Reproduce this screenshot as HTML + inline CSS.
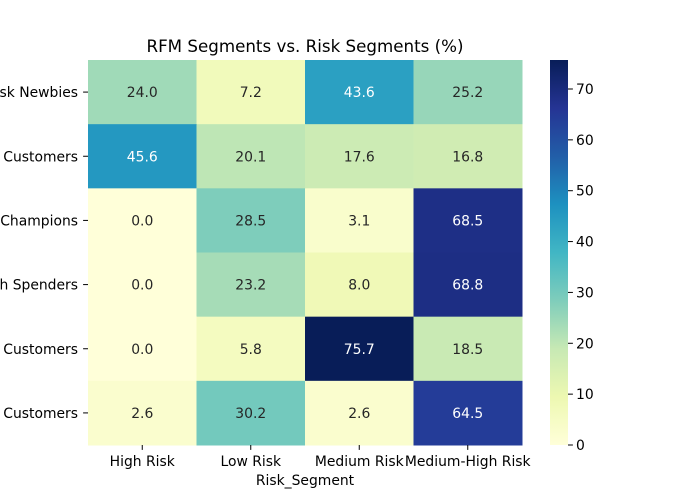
<!DOCTYPE html>
<html><head><meta charset="utf-8"><style>
body{margin:0;background:#fff;}
svg{font-family:"DejaVu Sans","Liberation Sans",sans-serif;display:block;}
</style></head><body>
<svg id="chart" width="700" height="500" viewBox="0 0 700 500">
<text x="305" y="52" text-anchor="middle" font-size="16.7" fill="#000">RFM Segments vs. Risk Segments (%)</text>
<g id="cells"></g>
<g id="axes"></g>
<g id="cbar"></g>
<text x="305" y="485" text-anchor="middle" font-size="13.9" fill="#000">Risk_Segment</text>
</svg>
<script>
const rows = ["At Risk Newbies","Loyal Customers","Champions","High Spenders","New Customers","Lost Customers"];
const cols = ["High Risk","Low Risk","Medium Risk","Medium-High Risk"];
const values = [
 [24.0,7.2,43.6,25.2],
 [45.6,20.1,17.6,16.8],
 [0.0,28.5,3.1,68.5],
 [0.0,23.2,8.0,68.8],
 [0.0,5.8,75.7,18.5],
 [2.6,30.2,2.6,64.5]
];
const cbarTicks = [0,10,20,30,40,50,60,70];

const NS="http://www.w3.org/2000/svg";
const X0=88,X1=522,Y0=60,Y1=445;
const FS=13.9;
const cw=(X1-X0)/cols.length, rh=(Y1-Y0)/rows.length;
const vmin=0, vmax=Math.max(...values.flat());
const stops=["#ffffd9","#edf8b1","#c7e9b4","#7fcdbb","#41b6c4","#1d91c0","#225ea8","#253494","#081d58"];
function hex(h){return [1,3,5].map(i=>parseInt(h.substr(i,2),16));}
function color(v){
  let t=Math.max(0,Math.min(1,(v-vmin)/(vmax-vmin)))*(stops.length-1);
  let i=Math.min(Math.floor(t),stops.length-2), f=t-i;
  let a=hex(stops[i]), b=hex(stops[i+1]);
  return "rgb("+a.map((c,k)=>Math.round(c+(b[k]-c)*f)).join(",")+")";
}
function mk(tag,attrs,parent){const e=document.createElementNS(NS,tag);for(const k in attrs)e.setAttribute(k,attrs[k]);parent.appendChild(e);return e;}
const cells=document.getElementById('cells'), axes=document.getElementById('axes'), cbar=document.getElementById('cbar');
values.forEach((row,r)=>row.forEach((v,c)=>{
  const rect=mk('rect',{x:X0+c*cw,y:Y0+r*rh,width:cw+0.5,height:rh+0.5,fill:color(v)},cells);
  
  
  const t=mk('text',{x:X0+(c+0.5)*cw,y:Y0+(r+0.5)*rh+5,'text-anchor':'middle','font-size':FS,fill:(v-vmin)/(vmax-vmin)>0.5?'#fff':'#262626'},cells);
  t.textContent=v.toFixed(1);
  
  
}));
rows.forEach((n,r)=>{
  const y=Y0+(r+0.5)*rh;
  mk('line',{x1:X0-4.9,x2:X0,y1:y,y2:y,stroke:'#000'},axes);
  const t=mk('text',{x:X0-10,y:y+5,'text-anchor':'end','font-size':FS},axes);
  t.textContent=n;
  
  
});
cols.forEach((n,c)=>{
  const x=X0+(c+0.5)*cw;
  mk('line',{x1:x,x2:x,y1:Y1,y2:Y1+4.9,stroke:'#000'},axes);
  const t=mk('text',{x:x,y:Y1+21,'text-anchor':'middle','font-size':FS},axes);
  t.textContent=n;
  
  
});
const CX=550,CW=18, defs=mk('defs',{},cbar);
const g=mk('linearGradient',{id:'cg',x1:0,y1:1,x2:0,y2:0},defs);
stops.forEach((s,i)=>mk('stop',{offset:i/(stops.length-1),'stop-color':s},g));
const cr=mk('rect',{x:CX,y:Y0,width:CW,height:Y1-Y0,fill:'url(#cg)'},cbar);


cbarTicks.forEach(v=>{
  const y=Y1-(v-vmin)/(vmax-vmin)*(Y1-Y0);
  mk('line',{x1:CX+CW,x2:CX+CW+4.9,y1:y,y2:y,stroke:'#000'},cbar);
  const t=mk('text',{x:CX+CW+8,y:y+5,'font-size':FS},cbar);
  t.textContent=v;
  
  
});
</script>
</body></html>
